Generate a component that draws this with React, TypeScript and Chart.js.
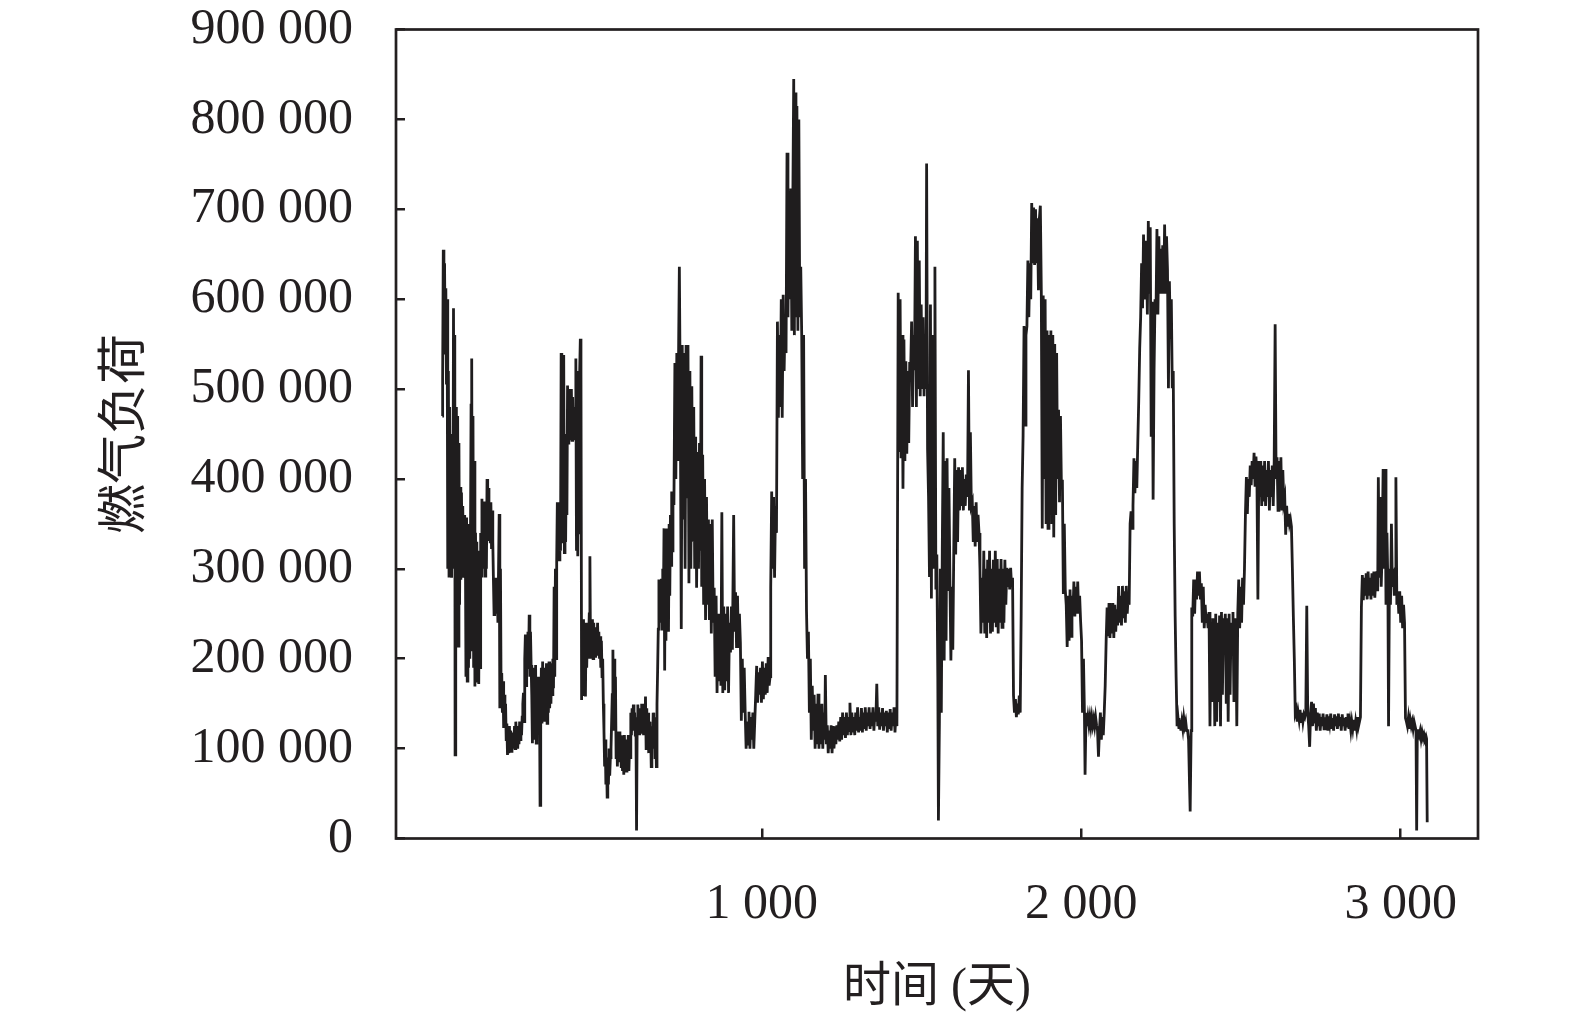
import { useEffect, useRef } from "react"
import { Chart, registerables } from "chart.js"

Chart.register(...registerables)

// [day, gas load in thousands]
const loadPart1: [number, number][] = [
  [0, 470], [1, 512], [3, 655], [5, 540], [7, 640], [9, 540], [11, 612], [13, 505], [15, 600], [17, 300],
  [19, 520], [21, 292], [23, 480], [25, 300], [27, 450], [29, 290], [31, 420], [33, 300], [35, 590], [37, 330],
  [39, 560], [40, 93], [42, 320], [44, 480], [46, 220], [48, 470], [50, 214], [52, 440], [54, 260], [56, 391],
  [58, 288], [60, 385], [62, 300], [64, 370], [66, 290], [68, 360], [70, 300], [72, 340], [74, 180], [76, 357],
  [78, 175], [80, 330], [82, 190], [84, 350], [86, 200], [88, 320], [90, 482], [92, 534], [94, 210], [96, 470],
  [98, 190], [100, 420], [102, 169], [104, 340], [106, 175], [108, 330], [110, 180], [112, 320], [114, 172], [116, 300],
  [118, 190], [120, 340], [122, 292], [124, 378], [126, 300], [128, 370], [130, 320], [132, 375], [134, 292], [136, 360],
  [138, 300], [140, 400], [142, 331], [144, 390], [146, 340], [148, 370], [150, 330], [152, 374], [154, 322], [156, 365],
  [158, 330], [160, 288], [162, 249], [164, 280], [166, 255], [168, 290], [170, 250], [172, 280], [174, 240], [176, 300],
  [178, 361], [180, 145], [182, 300], [184, 160], [186, 184], [188, 140], [190, 175], [192, 123], [194, 160], [196, 128],
  [198, 150], [200, 110], [202, 128], [204, 93], [206, 120], [208, 95], [210, 125], [212, 100], [214, 120], [216, 97],
  [218, 115], [220, 100], [222, 118], [224, 105], [226, 125], [228, 100], [230, 130], [232, 110], [234, 125], [236, 100],
  [238, 120], [240, 105], [242, 130], [244, 110], [246, 125], [248, 115], [250, 135], [252, 150], [254, 162], [256, 130],
  [258, 200], [260, 227], [262, 170], [264, 215], [266, 190], [268, 230], [270, 200], [272, 249], [274, 180], [276, 230],
  [278, 193], [280, 160], [282, 106], [284, 190], [286, 110], [288, 185], [290, 120], [292, 193], [294, 106], [296, 170],
  [298, 140], [300, 180], [302, 120], [304, 170], [306, 37], [308, 130], [310, 190], [312, 128], [314, 197], [316, 140],
  [318, 190], [320, 130], [322, 185], [324, 150], [326, 195], [328, 128], [330, 190], [332, 140], [334, 197], [336, 145],
  [338, 180], [340, 150], [342, 195], [344, 160], [346, 200], [348, 167], [350, 280], [352, 180], [354, 300], [356, 200],
  [358, 309], [360, 374], [362, 320], [364, 360], [366, 310], [368, 350], [370, 320], [372, 540], [374, 350], [376, 500],
  [378, 330], [380, 538], [382, 318], [384, 450], [386, 330], [388, 420], [390, 360], [392, 504], [394, 440], [396, 500],
  [398, 443], [400, 490], [402, 460], [404, 500], [406, 443], [408, 491], [410, 450], [412, 480], [414, 443], [416, 470],
  [418, 534], [420, 320], [422, 520], [424, 314], [426, 480], [428, 340], [430, 520], [432, 556], [434, 520], [436, 154],
  [438, 220], [440, 170], [442, 244], [444, 160], [446, 220], [448, 158], [450, 240], [452, 190], [454, 230], [456, 200],
  [458, 220], [460, 250], [462, 314], [464, 200], [466, 240], [468, 220], [470, 244], [472, 200], [474, 240], [476, 210],
  [478, 235], [480, 201], [482, 230], [484, 210], [486, 240], [488, 205], [490, 230], [492, 200], [494, 225], [496, 190],
  [498, 220], [500, 180], [502, 200], [504, 150], [506, 120], [508, 80], [510, 110], [512, 60], [514, 90], [516, 46],
  [518, 85], [520, 60], [522, 100], [524, 70], [526, 90], [528, 100], [530, 130], [532, 160], [534, 210], [536, 120],
  [538, 200], [540, 130], [542, 180], [544, 90], [546, 119], [548, 80], [550, 115], [552, 100], [554, 119], [556, 85],
  [558, 110], [560, 80], [562, 115], [564, 75], [566, 110], [568, 71], [570, 115], [572, 85], [574, 110], [576, 75],
  [578, 100], [580, 80], [582, 115], [584, 75], [586, 100], [588, 90], [590, 140], [592, 115], [594, 145], [596, 120],
  [598, 149], [600, 125], [602, 140], [604, 115], [606, 135], [608, 9], [610, 130], [612, 149], [614, 120], [616, 145],
  [618, 115], [620, 140], [622, 120], [624, 150], [626, 118], [628, 140], [630, 115], [632, 150], [634, 120], [636, 158],
  [638, 100], [640, 145], [642, 110], [644, 140], [646, 95], [648, 130], [650, 100], [652, 120], [654, 80], [656, 125],
  [658, 100], [660, 140], [662, 110], [664, 135], [666, 90], [668, 120], [670, 80], [672, 150], [674, 188], [676, 233],
  [678, 288], [680, 240], [682, 280], [684, 250], [686, 289], [688, 233], [690, 300], [692, 260], [694, 345], [696, 187],
  [698, 340], [700, 220], [702, 345], [704, 250], [706, 330], [708, 230], [710, 350], [712, 270], [714, 360], [716, 304],
  [718, 386], [720, 320],
]

const loadPart2: [number, number][] = [
  [722, 386], [725, 371], [728, 529], [731, 400], [734, 540], [737, 420], [740, 560], [742, 636], [745, 480], [748, 233],
  [751, 549], [754, 355], [757, 540], [760, 300], [763, 549], [766, 380], [769, 549], [772, 284], [775, 520], [778, 300],
  [781, 503], [784, 330], [787, 480], [790, 300], [793, 447], [796, 279], [799, 430], [802, 300], [805, 440], [808, 320],
  [810, 537], [812, 280], [815, 427], [818, 260], [821, 400], [824, 243], [827, 380], [830, 260], [833, 355], [836, 243],
  [839, 350], [842, 228], [845, 355], [848, 240], [851, 279], [854, 180], [857, 270], [860, 162], [863, 250], [866, 175],
  [869, 240], [872, 170], [875, 363], [878, 162], [881, 258], [884, 165], [887, 250], [890, 175], [893, 258], [896, 162],
  [899, 240], [902, 207], [905, 258], [908, 210], [912, 360], [915, 230], [918, 274], [921, 212], [924, 270], [927, 212],
  [930, 250], [933, 218], [936, 131], [939, 200], [942, 140], [945, 190], [948, 141], [951, 100], [954, 130], [957, 105],
  [960, 141], [963, 100], [966, 135], [969, 110], [972, 140], [975, 100], [978, 130], [981, 160], [984, 192], [987, 151],
  [990, 185], [993, 160], [996, 190], [999, 151], [1002, 197], [1005, 155], [1008, 190], [1011, 160], [1014, 195], [1017, 162],
  [1020, 202], [1023, 170], [1026, 180], [1028, 279], [1031, 386], [1034, 300], [1037, 380], [1040, 290], [1043, 370], [1046, 340],
  [1049, 575], [1052, 468], [1055, 560], [1058, 480], [1061, 600], [1064, 468], [1067, 605], [1070, 520], [1073, 580], [1076, 540],
  [1079, 763], [1082, 580], [1085, 720], [1088, 600], [1091, 723], [1094, 565], [1097, 700], [1100, 845], [1102, 560], [1104, 830],
  [1107, 580], [1110, 815], [1113, 565], [1116, 800], [1119, 580], [1122, 636], [1125, 560], [1128, 400], [1131, 560], [1134, 300],
  [1137, 400], [1140, 253], [1143, 200], [1146, 230], [1149, 140], [1152, 200], [1155, 110], [1158, 170], [1161, 120], [1164, 160],
  [1167, 100], [1170, 150], [1173, 105], [1176, 161], [1179, 100], [1182, 140], [1185, 105], [1188, 150], [1191, 100], [1194, 140],
  [1197, 110], [1199, 182], [1202, 105], [1205, 126], [1208, 95], [1211, 120], [1214, 100], [1217, 126], [1220, 95], [1223, 125],
  [1226, 100], [1229, 120], [1232, 105], [1235, 126], [1238, 110], [1241, 130], [1244, 108], [1247, 135], [1250, 110], [1253, 140],
  [1256, 115], [1259, 135], [1262, 112], [1265, 140], [1268, 115], [1271, 135], [1274, 120], [1276, 151], [1279, 115], [1282, 140],
  [1285, 118], [1288, 135], [1291, 115], [1294, 140], [1297, 120], [1300, 146], [1303, 118], [1306, 135], [1309, 120], [1312, 145],
  [1315, 118], [1318, 140], [1321, 122], [1324, 146], [1327, 120], [1330, 140], [1333, 125], [1336, 146], [1339, 122], [1342, 140],
  [1345, 125], [1348, 146], [1351, 120], [1354, 140], [1357, 130], [1360, 172], [1363, 125], [1366, 146], [1369, 121], [1372, 140],
  [1375, 125], [1378, 145], [1381, 120], [1384, 140], [1387, 125], [1390, 142], [1393, 118], [1396, 140], [1399, 122], [1402, 144],
  [1405, 120], [1408, 140], [1411, 125], [1414, 146], [1417, 118], [1420, 140], [1423, 125],
]

const loadPart3: [number, number][] = [
  [1427, 607], [1430, 430], [1433, 600], [1436, 423], [1439, 560], [1442, 389], [1445, 555], [1448, 420], [1451, 531], [1454, 428],
  [1457, 520], [1460, 440], [1463, 530], [1466, 521], [1469, 575], [1472, 480], [1475, 560], [1478, 521], [1481, 670], [1484, 480],
  [1487, 665], [1490, 500], [1493, 643], [1496, 492], [1499, 594], [1502, 500], [1505, 580], [1508, 492], [1511, 560], [1514, 500],
  [1516, 751], [1519, 433], [1522, 380], [1525, 291], [1528, 594], [1531, 267], [1534, 560], [1537, 300], [1540, 500], [1542, 636],
  [1545, 277], [1548, 316], [1551, 180], [1553, 20], [1556, 130], [1559, 300], [1562, 140], [1565, 320], [1568, 452], [1571, 198],
  [1574, 420], [1577, 220], [1580, 423], [1583, 277], [1586, 390], [1589, 286], [1592, 198], [1595, 280], [1598, 210], [1601, 320],
  [1604, 423], [1607, 316], [1610, 410], [1613, 330], [1616, 413], [1619, 365], [1622, 410], [1625, 370], [1628, 413], [1631, 365],
  [1634, 400], [1637, 370], [1640, 405], [1644, 380], [1647, 521], [1650, 365], [1653, 452], [1656, 370], [1659, 374], [1662, 330],
  [1665, 370], [1668, 325], [1671, 374], [1674, 330], [1677, 360], [1680, 340], [1683, 300], [1686, 228], [1689, 290], [1692, 240],
  [1695, 320], [1698, 228], [1701, 300], [1704, 223], [1707, 310], [1710, 240], [1713, 320], [1716, 228], [1719, 300], [1722, 230],
  [1725, 310], [1728, 240], [1731, 320], [1734, 235], [1737, 311], [1740, 228], [1743, 300], [1746, 240], [1749, 311], [1752, 235],
  [1755, 300], [1758, 240], [1761, 310], [1764, 260], [1767, 301], [1770, 280], [1773, 300], [1776, 277], [1779, 301], [1782, 280],
  [1785, 290], [1788, 159], [1791, 140], [1794, 155], [1797, 135], [1800, 150], [1803, 138], [1806, 159], [1809, 140], [1812, 250],
  [1815, 389], [1818, 448], [1821, 570], [1824, 460], [1827, 560], [1830, 570], [1833, 643], [1836, 580], [1839, 640], [1842, 600],
  [1845, 707], [1848, 640], [1851, 702], [1854, 638], [1857, 700], [1860, 640], [1863, 690], [1866, 610], [1869, 690], [1872, 704],
  [1875, 609], [1878, 345], [1881, 604], [1884, 400], [1887, 600], [1890, 350], [1893, 565], [1896, 345], [1899, 560], [1902, 380],
  [1905, 565], [1908, 350], [1911, 560], [1914, 335], [1917, 550], [1920, 360], [1923, 540], [1926, 400], [1929, 477], [1932, 374],
  [1935, 470], [1938, 390], [1941, 399], [1944, 272], [1947, 350], [1950, 277], [1953, 260], [1956, 213], [1959, 270], [1962, 220],
  [1965, 277], [1968, 225], [1971, 270], [1974, 250], [1977, 286], [1980, 247], [1983, 280], [1986, 250], [1989, 286], [1992, 250],
  [1995, 270], [1998, 242], [2001, 220], [2004, 140], [2007, 200], [2010, 140], [2012, 71], [2015, 140], [2018, 125], [2021, 135],
  [2024, 126], [2027, 135], [2030, 125], [2033, 135], [2036, 126], [2039, 133], [2042, 125], [2045, 135], [2048, 126], [2051, 120],
  [2054, 91], [2057, 120], [2060, 140], [2063, 110], [2066, 135], [2069, 115], [2072, 140], [2075, 170], [2078, 220], [2081, 257],
  [2084, 225], [2087, 262], [2090, 223], [2093, 255], [2096, 228], [2099, 262], [2102, 223], [2105, 260], [2108, 230], [2111, 255],
  [2114, 237], [2117, 281], [2120, 240], [2123, 270], [2126, 237], [2129, 281], [2132, 245], [2135, 275], [2138, 240], [2141, 281],
  [2144, 250], [2147, 270], [2150, 260], [2153, 350], [2156, 364], [2159, 345], [2162, 370], [2165, 423], [2168, 384], [2171, 420],
  [2174, 390], [2177, 440], [2180, 487], [2183, 545], [2186, 580], [2189, 640], [2192, 590], [2195, 672], [2198, 600],
]

const loadPart4: [number, number][] = [
  [2201, 606], [2204, 665], [2207, 583], [2210, 687], [2213, 606], [2216, 680], [2219, 447], [2222, 597], [2225, 377], [2228, 520],
  [2231, 600], [2234, 583], [2237, 678], [2240, 583], [2243, 670], [2246, 606], [2249, 656], [2252, 606], [2255, 660], [2258, 606],
  [2261, 683], [2264, 606], [2267, 670], [2270, 633], [2273, 501], [2276, 620], [2279, 556], [2282, 600], [2285, 501], [2288, 520],
  [2291, 350], [2294, 247], [2297, 180], [2300, 125], [2303, 134], [2306, 122], [2309, 132], [2312, 120], [2315, 130], [2318, 122],
  [2321, 134], [2324, 125], [2327, 130], [2330, 120], [2333, 120], [2336, 110], [2339, 60], [2341, 30], [2344, 120], [2346, 257],
  [2349, 247], [2352, 288], [2355, 250], [2358, 288], [2361, 266], [2364, 297], [2367, 270], [2370, 297], [2373, 266], [2376, 284],
  [2379, 240], [2382, 280], [2385, 234], [2388, 260], [2391, 240], [2394, 250], [2397, 234], [2400, 252], [2403, 125], [2406, 240],
  [2409, 152], [2412, 245], [2415, 229], [2418, 125], [2421, 250], [2424, 130], [2427, 240], [2430, 152], [2433, 248], [2436, 125],
  [2439, 252], [2442, 160], [2445, 245], [2448, 229], [2451, 250], [2454, 150], [2457, 245], [2460, 130], [2463, 250], [2466, 160],
  [2469, 240], [2472, 229], [2475, 252], [2478, 152], [2481, 245], [2484, 229], [2487, 125], [2490, 250], [2493, 288], [2496, 234],
  [2499, 280], [2502, 240], [2505, 290], [2508, 260], [2511, 300], [2514, 361], [2517, 402], [2520, 361], [2523, 400], [2526, 380],
  [2529, 415], [2532, 393], [2535, 420], [2538, 400], [2541, 429], [2544, 393], [2547, 425], [2550, 400], [2553, 266], [2556, 420],
  [2559, 380], [2562, 420], [2565, 370], [2568, 415], [2571, 375], [2574, 420], [2577, 370], [2580, 410], [2583, 380], [2586, 420],
  [2589, 365], [2592, 410], [2595, 380], [2598, 415], [2601, 370], [2604, 420], [2607, 572], [2610, 400], [2613, 424], [2616, 365],
  [2619, 420], [2622, 370], [2625, 424], [2628, 365], [2631, 410], [2634, 374], [2637, 380], [2640, 338], [2643, 370], [2646, 347],
  [2649, 361], [2652, 350], [2655, 355], [2658, 347], [2661, 300], [2664, 247], [2667, 200], [2670, 139], [2673, 143], [2676, 130],
  [2679, 140], [2682, 132], [2685, 143], [2688, 130], [2691, 140], [2694, 130], [2697, 138], [2700, 135], [2703, 140], [2706, 259],
  [2709, 140], [2712, 125], [2715, 102], [2718, 140], [2721, 152], [2724, 125], [2727, 150], [2730, 128], [2733, 145], [2736, 120],
  [2739, 140], [2742, 125], [2745, 139], [2748, 120], [2751, 135], [2754, 125], [2757, 139], [2760, 122], [2763, 135], [2766, 125],
  [2769, 138], [2772, 120], [2775, 136], [2778, 128], [2781, 139], [2784, 122], [2787, 134], [2790, 120], [2793, 138], [2796, 125],
  [2799, 136], [2802, 122], [2805, 139], [2808, 125], [2811, 135], [2814, 120], [2817, 138], [2820, 125], [2823, 134], [2826, 120],
  [2829, 135], [2832, 125], [2835, 139], [2838, 122], [2841, 130], [2844, 120], [2847, 130], [2850, 122], [2853, 132], [2856, 120],
  [2859, 130], [2862, 122], [2865, 135], [2868, 125], [2871, 130], [2874, 135], [2877, 257], [2880, 293], [2883, 265], [2886, 290],
  [2889, 270], [2892, 295], [2895, 266], [2898, 297], [2901, 270], [2904, 290], [2907, 266], [2910, 295], [2913, 270], [2916, 297],
  [2919, 268], [2922, 290], [2925, 297], [2928, 275], [2930, 402], [2933, 290], [2936, 380], [2939, 280], [2942, 320], [2945, 411],
  [2948, 300], [2951, 411], [2954, 260], [2957, 340], [2960, 280], [2962, 125], [2965, 300], [2968, 260], [2971, 350], [2974, 280],
  [2977, 300], [2980, 270], [2983, 300], [2985, 402], [2988, 260], [2991, 275], [2994, 250], [2997, 275], [3000, 240], [3003, 270],
  [3006, 234], [3009, 260], [3012, 240], [3015, 134], [3018, 130], [3021, 125], [3024, 134], [3027, 122], [3030, 132], [3033, 125],
  [3036, 130], [3039, 122], [3042, 130], [3045, 125], [3048, 120], [3050, 9], [3052, 120], [3055, 120], [3058, 115], [3061, 120],
  [3064, 111], [3067, 118], [3070, 112], [3073, 116], [3076, 111], [3079, 114], [3081, 111], [3083, 18],
]

const xTickValues = [1000, 2000, 3000]
const xTickLabels = ["1 000", "2 000", "3 000"]
const yTickValues = [0, 100000, 200000, 300000, 400000, 500000, 600000, 700000, 800000, 900000]
const yTickLabels = [
  "0", "100 000", "200 000", "300 000", "400 000",
  "500 000", "600 000", "700 000", "800 000", "900 000",
]

const xTitle = "时间 (天)"
const yTitle = "燃气负荷"

const ink = "#231f20"

const framePlugin = {
  id: "frame",
  afterDatasetsDraw(chart: Chart) {
    const { ctx, chartArea } = chart
    ctx.save()
    ctx.strokeStyle = ink
    ctx.lineWidth = 2.7
    ctx.strokeRect(chartArea.left, chartArea.top, chartArea.right - chartArea.left, chartArea.bottom - chartArea.top)
    ctx.restore()
  },
}

function GasLoadChart() {
  const chartRef = useRef<HTMLCanvasElement>(null)
  const chartInstance = useRef<Chart | null>(null)

  useEffect(() => {
    if (!chartRef.current) return

    if (chartInstance.current) {
      chartInstance.current.destroy()
    }

    const ctx = chartRef.current.getContext("2d")
    if (!ctx) return

    const points = [...loadPart1, ...loadPart2, ...loadPart3, ...loadPart4].map(([day, load]) => ({
      x: day,
      y: load * 1000,
    }))

    chartInstance.current = new Chart(ctx, {
      type: "line",
      data: {
        datasets: [
          {
            label: "燃气负荷",
            data: points,
            borderColor: "#1f1d1e",
            borderWidth: 2.8,
            pointRadius: 0,
            tension: 0,
            fill: false,
          },
        ],
      },
      options: {
        responsive: true,
        maintainAspectRatio: false,
        animation: false,
        layout: {
          padding: { top: 29.5, right: 97, bottom: 0, left: 0 },
        },
        plugins: {
          legend: { display: false },
          tooltip: { enabled: false },
        },
        scales: {
          x: {
            type: "linear",
            min: -145,
            max: 3242,
            afterBuildTicks: (scale) => {
              scale.ticks = xTickValues.map((value) => ({ value }))
            },
            afterFit: (scale) => {
              scale.height = 184.5
            },
            ticks: {
              autoSkip: false,
              maxRotation: 0,
              padding: 46,
              color: ink,
              font: { family: "'Liberation Serif', 'Times New Roman', serif", size: 50 },
              callback: (value) => xTickLabels[xTickValues.indexOf(Number(value))] ?? "",
            },
            grid: {
              display: true,
              drawOnChartArea: false,
              drawTicks: true,
              tickLength: -10,
              color: ink,
              lineWidth: 2.5,
            },
            border: { display: false },
            title: {
              display: true,
              text: xTitle,
              color: ink,
              padding: { top: 0, bottom: 11 },
              font: { family: "'Liberation Serif', 'Noto Sans CJK SC', serif", size: 48, lineHeight: 1 },
            },
          },
          y: {
            min: 0,
            max: 900000,
            afterBuildTicks: (scale) => {
              scale.ticks = yTickValues.map((value) => ({ value }))
            },
            afterFit: (scale) => {
              // fixed axis width; drop the label overflow padding so the frame top stays put
              scale.width = 396
              scale.paddingTop = 0
              scale.paddingBottom = 0
            },
            ticks: {
              autoSkip: false,
              padding: 52,
              color: ink,
              font: { family: "'Liberation Serif', 'Times New Roman', serif", size: 50, lineHeight: 1 },
              callback: (value) => yTickLabels[yTickValues.indexOf(Number(value))] ?? "",
            },
            grid: {
              display: true,
              drawOnChartArea: false,
              drawTicks: true,
              tickLength: -9,
              color: ink,
              lineWidth: 2.5,
            },
            border: { display: false },
            title: {
              display: true,
              text: yTitle,
              color: ink,
              padding: { top: 96, bottom: 0 },
              font: { family: "'Noto Sans CJK SC', sans-serif", size: 50, lineHeight: 1 },
            },
          },
        },
      },
      plugins: [framePlugin],
    })

    return () => {
      if (chartInstance.current) {
        chartInstance.current.destroy()
        chartInstance.current = null
      }
    }
  }, [])

  return (
    <div style={{ position: "fixed", left: 0, top: 0, width: 1575, height: 1023, background: "#fff" }}>
      <canvas ref={chartRef} />
    </div>
  )
}

export default function App() {
  return <GasLoadChart />
}
